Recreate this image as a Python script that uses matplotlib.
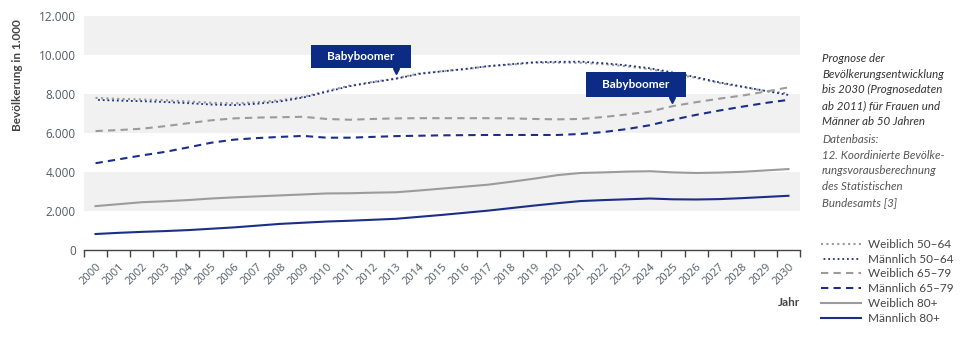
import matplotlib
matplotlib.use("Agg")
import matplotlib.pyplot as plt
from matplotlib.patches import Rectangle
import numpy as np

# Data (population in 1,000)
years = list(range(2000, 2031))
w_50_64 = [7800, 7750, 7720, 7680, 7620, 7550, 7520, 7580, 7680, 7860, 8150, 8430,
           8620, 8800, 9050, 9170, 9280, 9420, 9510, 9600, 9610, 9600, 9530, 9420,
           9270, 9060, 8820, 8560, 8360, 8160, 8030]
m_50_64 = [7700, 7660, 7630, 7590, 7530, 7460, 7430, 7500, 7620, 7820, 8110, 8400,
           8600, 8780, 9030, 9160, 9280, 9430, 9530, 9630, 9650, 9660, 9580, 9470,
           9320, 9100, 8860, 8600, 8380, 8160, 7950]
w_65_79 = [6100, 6150, 6220, 6350, 6500, 6650, 6750, 6790, 6810, 6830, 6720, 6680,
           6720, 6750, 6760, 6760, 6760, 6760, 6750, 6720, 6700, 6720, 6820, 6950,
           7100, 7380, 7580, 7760, 7920, 8120, 8340]
m_65_79 = [4450, 4650, 4850, 5030, 5260, 5500, 5660, 5740, 5800, 5850, 5760, 5760,
           5800, 5840, 5860, 5880, 5890, 5900, 5900, 5900, 5900, 5950, 6050, 6200,
           6400, 6680, 6930, 7150, 7350, 7540, 7700]
w_80 = [2250, 2350, 2450, 2500, 2560, 2640, 2700, 2750, 2800, 2850, 2900, 2910,
        2940, 2960, 3050, 3150, 3250, 3350, 3500, 3660, 3840, 3950, 3980, 4020,
        4040, 3980, 3950, 3970, 4010, 4080, 4150]
m_80 = [820, 880, 930, 970, 1020, 1090, 1160, 1250, 1340, 1400, 1460, 1500,
        1550, 1600, 1700, 1800, 1910, 2020, 2150, 2280, 2400, 2510, 2560, 2600,
        2640, 2600, 2590, 2610, 2660, 2720, 2780]

labels = ["Weiblich 50–64", "Männlich 50–64", "Weiblich 65–79",
          "Männlich 65–79", "Weiblich 80+", "Männlich 80+"]

# Annotation boxes: (x0, x1, y0, y1) in data units, pointer at (x, y)
boxes = [(9.34, 13.66, 9330, 10510), (21.23, 25.55, 7850, 9130)]
pointers = [(13.0, 9180), (24.95, 7690)]

blue = "#1b2f86"
grey = "#9b9b9b"
boxblue = "#0b2b84"
txt = "#555a66"

plt.rcParams["font.family"] = ["Lato", "DejaVu Sans"]

fig = plt.figure(figsize=(9.72, 3.41), dpi=100)
ax = fig.add_axes([84 / 972, 1 - 250 / 341, 716 / 972, 234 / 341])

x = np.arange(len(years))
for lo, hi in [(2000, 4000), (6000, 8000), (10000, 12000)]:
    ax.axhspan(lo, hi, color="#f1f1f1", zorder=0, lw=0)

dot = (0, (1, 1.6))
dash = (0, (3.5, 2.5))
ax.plot(x, w_50_64, color=grey, lw=1.5, ls=dot, label=labels[0], zorder=3)
ax.plot(x, m_50_64, color=blue, lw=1.3, ls=(1.2, (1, 1.6)), label=labels[1], zorder=3)
ax.plot(x, w_65_79, color=grey, lw=1.5, ls=dash, label=labels[2], zorder=3)
ax.plot(x, m_65_79, color=blue, lw=1.5, ls=dash, label=labels[3], zorder=3)
ax.plot(x, w_80, color=grey, lw=1.5, label=labels[4], zorder=3)
ax.plot(x, m_80, color=blue, lw=1.5, label=labels[5], zorder=3)

for (x0, x1, y0, y1), (px, py) in zip(boxes, pointers):
    ax.add_patch(Rectangle((x0, y0), x1 - x0, y1 - y0, color=boxblue, zorder=5, lw=0))
    ax.text((x0 + x1) / 2, (y0 + y1) / 2, "Babyboomer", color="white",
            fontweight="bold", fontsize=8.5, ha="center", va="center", zorder=6)
    ax.plot([px], [py], marker="v", color=boxblue, markersize=5, zorder=5)

ax.set_xlim(-0.5, len(years) - 0.5)
ax.set_ylim(0, 12000)
ax.set_yticks(range(0, 12001, 2000))
ax.set_yticklabels(["0", "2.000", "4.000", "6.000", "8.000", "10.000", "12.000"],
                   fontfamily="Open Sans", fontsize=8.5, color=txt)
ax.set_xticks(np.arange(-0.5, len(years)), minor=False)
ax.set_xticklabels([])
ax.set_xticks(x, minor=True)
ax.set_xticklabels([str(y) for y in years], minor=True, rotation=45, ha="right",
                   rotation_mode="anchor", fontfamily="Open Sans", fontsize=8,
                   color=txt)
ax.tick_params(axis="x", which="major", length=5, width=1, color="#444444",
               direction="out")
ax.tick_params(axis="x", which="minor", length=0, pad=8)
ax.tick_params(axis="y", length=0, pad=6)
for s in ["top", "right", "left"]:
    ax.spines[s].set_visible(False)
ax.spines["bottom"].set_color("#444444")
ax.spines["bottom"].set_linewidth(1)

fig.text(18 / 972, 1 - 75 / 341, "Bevölkerung in 1.000", rotation=90, ha="center",
         va="center", fontweight="bold", fontsize=8.5, color="#444444")
fig.text(800 / 972, 1 - 302 / 341, "Jahr", ha="right", va="center",
         fontweight="bold", fontsize=8.5, color="#444444")

fig.text(822 / 972, 1 - 53 / 341,
         "Prognose der\nBevölkerungsentwicklung\nbis 2030 (Prognosedaten\n"
         "ab 2011) für Frauen und\nMänner ab 50 Jahren",
         ha="left", va="top", style="italic", fontsize=8.3, color="#333333",
         linespacing=1.52)
fig.text(822 / 972, 1 - 134 / 341,
         "Datenbasis:\n12. Koordinierte Bevölke-\nrungsvorausberechnung\n"
         "des Statistischen\nBundesamts [3]",
         ha="left", va="top", style="italic", fontsize=8.3, color="#555555",
         linespacing=1.52)

fig.legend(loc="upper left", bbox_to_anchor=(815 / 972, 1 - 233 / 341),
           frameon=False, fontsize=8.5, handlelength=3.4, handletextpad=0.6,
           labelspacing=0.32, borderpad=0, labelcolor="#444444")

fig.savefig("out.png", dpi=100)
